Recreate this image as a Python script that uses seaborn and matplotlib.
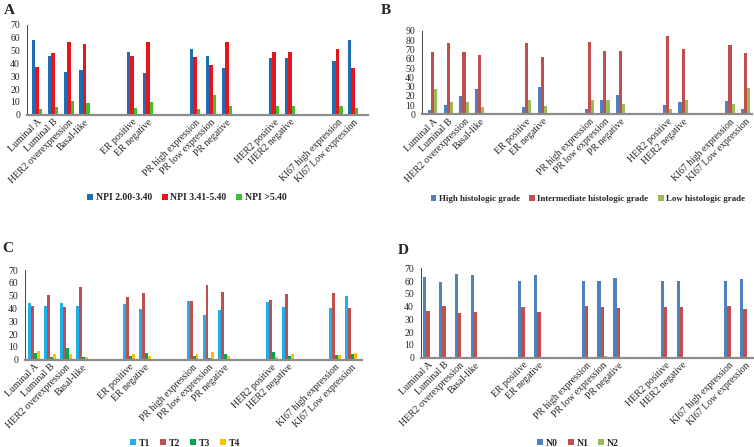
import matplotlib
matplotlib.use("Agg")
import matplotlib.pyplot as plt
from matplotlib.patches import Patch
import pandas as pd
import seaborn as sns

categories = ["Luminal A", "Luminal B", "HER2 overexpression", "Basal-like",
              "ER positive", "ER negative",
              "PR high expression", "PR low expression", "PR negative",
              "HER2 positive", "HER2 negative",
              "KI67 high expression", "KI67 Low expression"]

# empty slots between the marker groups
slot_order = (categories[:4] + ["gap1", "gap2"] + categories[4:6] + ["gap3", "gap4"]
              + categories[6:9] + ["gap5", "gap6"] + categories[9:11] + ["gap7", "gap8"]
              + categories[11:])

# A: NPI
npi_names = ["NPI 2.00-3.40", "NPI 3.41-5.40", "NPI >5.40"]
npi_low = [58.1, 46.1, 33.3, 35.2, 48.7, 32.8, 51.0, 45.8, 36.2, 44.3, 44.3, 41.7, 58.1]
npi_mid = [37.2, 48.2, 56.5, 55.2, 45.8, 57.0, 44.8, 38.8, 56.8, 49.0, 48.7, 51.3, 36.2]
npi_high = [4.4, 5.7, 10.4, 9.1, 5.2, 9.9, 4.2, 15.1, 6.8, 6.5, 6.5, 6.8, 5.5]

# B: histologic grade
grade_names = ["High histologic grade", "Intermediate histologic grade", "Low histologic grade"]
grade_high = [4.7, 9.7, 19.8, 27.7, 7.6, 29.1, 6.1, 15.8, 20.9, 10.4, 13.3, 14.0, 5.4]
grade_mid = [67.3, 77.0, 67.3, 64.4, 76.6, 61.9, 77.7, 68.0, 68.7, 84.5, 70.9, 74.8, 66.2]
grade_low = [27.3, 13.3, 13.3, 7.9, 15.8, 9.0, 15.8, 15.8, 10.8, 5.8, 15.8, 11.2, 28.4]

# C: T stage
t_names = ["T1", "T2", "T3", "T4"]
t1 = [44.5, 41.9, 44.3, 42.2, 43.2, 39.6, 45.8, 34.9, 39.1, 45.1, 41.1, 40.4, 49.7]
t2 = [42.2, 50.5, 41.1, 56.5, 48.9, 52.1, 45.6, 58.1, 53.1, 46.4, 51.0, 52.1, 40.6]
t3 = [5.5, 2.3, 9.1, 2.1, 2.9, 5.2, 3.1, 1.0, 4.2, 6.0, 2.9, 3.6, 4.2]
t4 = [6.8, 4.4, 4.7, 2.1, 4.4, 2.9, 4.4, 5.7, 3.1, 2.1, 4.4, 3.9, 4.9]

# D: N stage
n_names = ["N0", "N1", "N2"]
n0 = [63.4, 59.0, 65.5, 64.8, 60.3, 64.5, 60.0, 59.8, 62.7, 60.3, 60.3, 59.8, 61.9]
n1 = [36.8, 40.7, 35.0, 35.8, 39.9, 36.0, 40.5, 39.4, 39.0, 39.9, 39.7, 40.7, 37.9]
n2 = [0.0, 0.4, 0.0, 0.0, 0.3, 0.0, 0.0, 1.1, 0.0, 0.0, 0.0, 0.0, 0.0]

W, H = 754, 447
sns.set_style("white")
plt.rcParams["font.family"] = ["Liberation Serif", "DejaVu Serif"]
fig = plt.figure(figsize=(W / 100, H / 100), dpi=100)


def px_axes(left, right, top, bottom):
    return fig.add_axes([left / W, 1 - bottom / H, (right - left) / W, (bottom - top) / H])


def panel(ax, names, series, colors, ymax, width, c0, slot, left, right):
    rows = []
    for name, vals in zip(names, series):
        for cat, v in zip(categories, vals):
            rows.append({"cat": cat, "series": name, "value": v})
    df = pd.DataFrame(rows)
    sns.barplot(data=df, x="cat", y="value", hue="series", order=slot_order,
                hue_order=names, palette=colors, width=width, errorbar=None,
                legend=False, ax=ax, saturation=1, linewidth=0)
    ax.set_xlim(-(c0 - left) / slot, (right - c0) / slot)
    ax.set_ylim(0, ymax)
    ax.set_yticks(range(0, ymax + 1, 10))
    ax.set_xticks(range(len(slot_order)))
    ax.set_xticklabels([c if not c.startswith("gap") else "" for c in slot_order],
                       rotation=45, ha="right", rotation_mode="anchor", fontsize=7)
    ax.tick_params(axis="x", length=0, pad=2)
    ax.tick_params(axis="y", labelsize=7, length=3, width=0.6, color="#555555", pad=2)
    ax.set_xlabel("")
    ax.set_ylabel("")
    for s in ["top", "right"]:
        ax.spines[s].set_visible(False)
    ax.spines["left"].set_color("#444444")
    ax.spines["left"].set_linewidth(0.7)
    ax.spines["bottom"].set_color("#8c8c8c")
    ax.spines["bottom"].set_linewidth(1.6)
    ax.set_facecolor("white")


c_a = ["#1f6db5", "#e8141a", "#3cc22c"]
c_b = ["#4f81bd", "#c0504d", "#9bbb59"]
c_c = ["#1fb0e8", "#c0504d", "#00a651", "#ffc000"]
c_d = ["#4f81bd", "#c0504d", "#9bbb59"]

axA = px_axes(27, 368, 25, 114.7)
panel(axA, npi_names, [npi_low, npi_mid, npi_high], c_a, 70, 0.65, 37.2, 15.8, 27, 368)
axB = px_axes(422, 752, 31, 114.3)
panel(axB, grade_names, [grade_high, grade_mid, grade_low], c_b, 90, 0.6, 432.7, 15.65, 422, 752)
axC = px_axes(25, 362, 270, 359.7)
panel(axC, t_names, [t1, t2, t3, t4], c_c, 70, 0.74, 34.2, 15.84, 25, 362)
axD = px_axes(421, 753, 268.3, 357.7)
panel(axD, n_names, [n0, n1, n2], c_d, 70, 0.63, 428, 15.85, 421, 753)


def legend(names, colors, x, y, size=7, spacing=1.0):
    handles = [Patch(facecolor=c, edgecolor="none", label=n) for n, c in zip(names, colors)]
    fig.legend(handles=handles, loc="center", bbox_to_anchor=(x / W, 1 - y / H),
               ncol=len(names), frameon=False, prop={"size": size, "weight": "bold"},
               handlelength=0.6, handleheight=0.6, handletextpad=0.3, columnspacing=spacing,
               borderaxespad=0, borderpad=0)


legend(npi_names, c_a, 187, 198)
legend(grade_names, c_b, 588, 199, size=6.4, spacing=1.1)
legend(t_names, c_c, 185, 443)
legend(n_names, c_d, 578, 443)

for letter, x, y in [("A", 4, 10), ("B", 381, 10), ("C", 2, 248), ("D", 398, 250)]:
    fig.text(x / W, 1 - y / H, letter, fontsize=11, fontweight="bold", va="center", ha="left")

fig.savefig("out.png", dpi=100, facecolor="white")
